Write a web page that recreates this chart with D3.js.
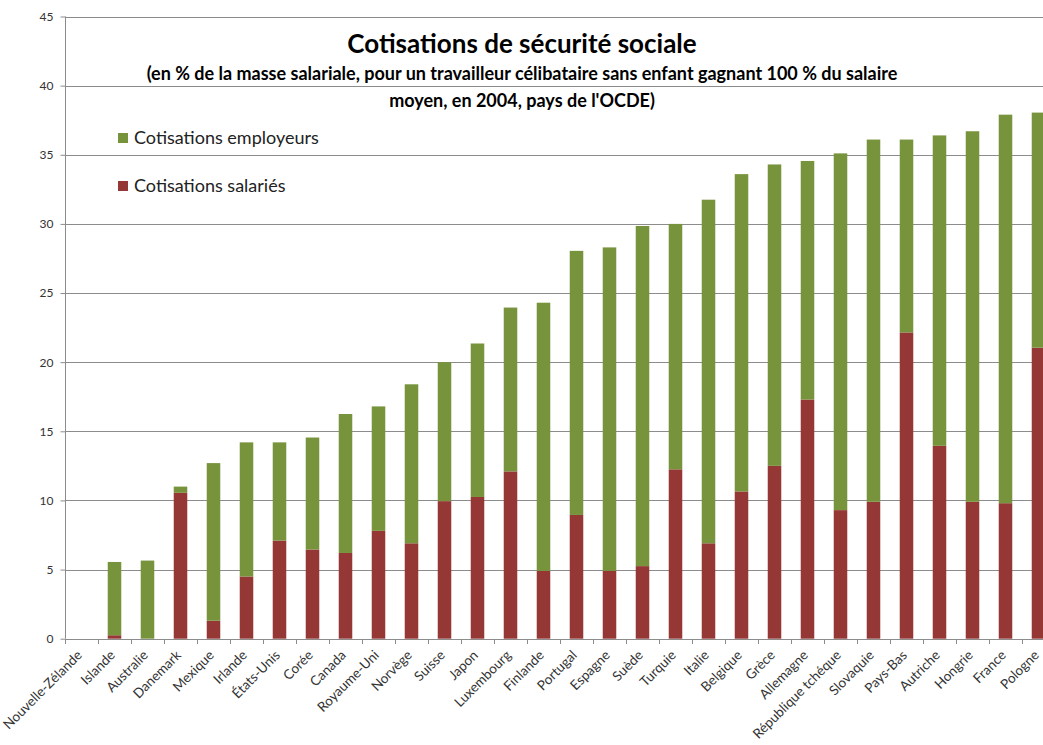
<!DOCTYPE html>
<html lang="fr">
<head>
<meta charset="utf-8">
<script src="https://cdn.jsdelivr.net/npm/d3@7"></script>
<style>
  html, body { margin: 0; padding: 0; background: #fff; overflow: hidden; }
  svg { display: block; }
</style>
</head>
<body>
<svg id="chart" width="1043" height="745"></svg>
<script>
// Pays de l'OCDE, classés par total des cotisations (2004)
const countries = [
  "Nouvelle-Zélande", "Islande", "Australie", "Danemark", "Mexique", "Irlande",
  "États-Unis", "Corée", "Canada", "Royaume-Uni", "Norvège", "Suisse", "Japon",
  "Luxembourg", "Finlande", "Portugal", "Espagne", "Suède", "Turquie", "Italie",
  "Belgique", "Grèce", "Allemagne", "République tchéque", "Slovaquie", "Pays-Bas",
  "Autriche", "Hongrie", "France", "Pologne"
];

// Cotisations salariés (% de la masse salariale)
const employeeValues = [
  0, 0.25, 0, 10.55, 1.3, 4.5, 7.1, 6.45, 6.2, 7.8, 6.9, 9.95, 10.25,
  12.1, 4.9, 8.95, 4.9, 5.25, 12.25, 6.9, 10.65, 12.5, 17.3, 9.3, 9.9,
  22.15, 13.95, 9.9, 9.8, 21.05
];

// Cotisations employeurs (% de la masse salariale)
const employerValues = [
  0, 5.3, 5.65, 0.45, 11.4, 9.7, 7.1, 8.1, 10.05, 9.0, 11.5, 10.05, 11.1,
  11.85, 19.4, 19.1, 23.4, 24.6, 17.75, 24.85, 22.95, 21.8, 17.25, 25.8, 26.2,
  13.95, 22.45, 26.8, 28.1, 17.0
];

const yTicks = [0, 5, 10, 15, 20, 25, 30, 35, 40, 45];

const seriesNames = ["Cotisations salariés", "Cotisations employeurs"];
const seriesColors = ["#953735", "#77933C"];

const rows = countries.map((c, i) => ({
  country: c,
  "Cotisations salariés": employeeValues[i],
  "Cotisations employeurs": employerValues[i]
}));

const svg = d3.select("#chart");
const plotLeft = 65, plotTop = 16.5, plotBottom = 638.7;
const step = 33;
const plotRight = plotLeft + step * countries.length;

const x = d3.scaleBand()
  .domain(countries)
  .range([plotLeft, plotRight])
  .paddingInner(0.59)
  .paddingOuter(0.295);

const y = d3.scaleLinear().domain([0, 45]).range([plotBottom, plotTop]);

const gridColor = "#8c8c8c";
const font = "Lato, 'Open Sans', sans-serif";

// horizontal gridlines
svg.append("g")
  .selectAll("line")
  .data(yTicks)
  .join("line")
  .attr("x1", plotLeft).attr("x2", 1043)
  .attr("y1", d => Math.round(y(d)) + 0.5)
  .attr("y2", d => Math.round(y(d)) + 0.5)
  .attr("stroke", gridColor)
  .attr("stroke-width", 1);

// stacked bars
const stack = d3.stack().keys(seriesNames);
const layers = stack(rows);

svg.append("g")
  .selectAll("g")
  .data(layers)
  .join("g")
  .attr("fill", (d, i) => seriesColors[i])
  .selectAll("rect")
  .data(d => d)
  .join("rect")
  .attr("x", d => x(d.data.country))
  .attr("width", x.bandwidth())
  .attr("y", d => y(d[1]))
  .attr("height", d => Math.max(0, y(d[0]) - y(d[1])));

// y axis
const yAxis = d3.axisLeft(y).tickValues(yTicks).tickSize(5).tickPadding(7);
const gy = svg.append("g")
  .attr("transform", `translate(${plotLeft + 0.5},0)`)
  .call(yAxis);
gy.select(".domain").attr("stroke", gridColor).attr("d", `M0,${plotTop}V${plotBottom}`);
gy.selectAll(".tick line").attr("stroke", gridColor);
gy.selectAll(".tick text")
  .attr("fill", "#333")
  .style("font-family", font)
  .style("font-size", "12px");

// x axis with rotated labels
const xTickPos = d3.range(countries.length + 1).map(i => plotLeft + i * step);
const gx = svg.append("g");
gx.append("line")
  .attr("x1", plotLeft).attr("x2", 1043)
  .attr("y1", Math.round(plotBottom) + 0.5).attr("y2", Math.round(plotBottom) + 0.5)
  .attr("stroke", gridColor);
gx.selectAll("line.tk")
  .data(xTickPos)
  .join("line")
  .attr("class", "tk")
  .attr("x1", d => Math.round(d) + 0.5).attr("x2", d => Math.round(d) + 0.5)
  .attr("y1", Math.round(plotBottom)).attr("y2", Math.round(plotBottom) + 5)
  .attr("stroke", gridColor);

gx.selectAll("text")
  .data(countries)
  .join("text")
  .attr("transform", d => `translate(${x(d) + x.bandwidth() / 2 - 2},${plotBottom + 14}) rotate(-45)`)
  .attr("text-anchor", "end")
  .attr("dy", "0.35em")
  .attr("fill", "#333")
  .style("font-family", font)
  .style("font-size", "13.5px")
  .text(d => d);

// title block
svg.append("text")
  .attr("x", 522).attr("y", 53)
  .attr("text-anchor", "middle")
  .style("font-family", font)
  .style("font-weight", "bold")
  .style("font-size", "26px")
  .attr("fill", "#000")
  .text("Cotisations de sécurité sociale");

const subtitle = [
  "(en % de la masse salariale, pour un travailleur célibataire sans enfant gagnant 100 % du salaire",
  "moyen, en 2004, pays de l'OCDE)"
];
svg.append("g")
  .selectAll("text")
  .data(subtitle)
  .join("text")
  .attr("x", 522)
  .attr("y", (d, i) => 80 + i * 27)
  .attr("text-anchor", "middle")
  .style("font-family", font)
  .style("font-weight", "bold")
  .style("font-size", "18px")
  .attr("fill", "#000")
  .text(d => d);

// legend
const legendItems = [
  { name: "Cotisations employeurs", color: seriesColors[1], y: 138 },
  { name: "Cotisations salariés", color: seriesColors[0], y: 186 }
];
const lg = svg.append("g")
  .selectAll("g")
  .data(legendItems)
  .join("g")
  .attr("transform", d => `translate(118,${d.y})`);
lg.append("rect")
  .attr("x", 0).attr("y", -5)
  .attr("width", 10).attr("height", 10)
  .attr("fill", d => d.color);
lg.append("text")
  .attr("x", 16).attr("y", 0)
  .attr("dy", "0.35em")
  .style("font-family", font)
  .style("font-size", "18px")
  .attr("fill", "#222")
  .text(d => d.name);
</script>
</body>
</html>
